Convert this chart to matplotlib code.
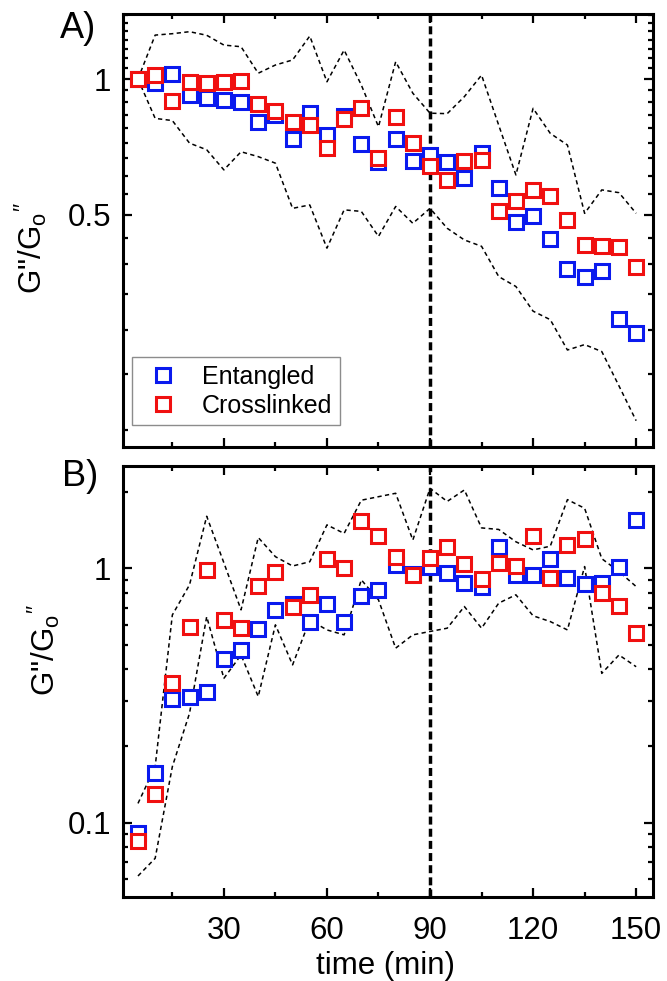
import matplotlib.pyplot as plt
from matplotlib.ticker import FixedLocator, FixedFormatter, NullFormatter, LogLocator

plt.rcParams['font.family'] = ['Liberation Sans', 'DejaVu Sans']
plt.rcParams['mathtext.fontset'] = 'custom'
plt.rcParams['mathtext.rm'] = 'Liberation Sans'
plt.rcParams['mathtext.it'] = 'Liberation Sans'

# time points (min)
time = [5, 10, 15, 20, 25, 30, 35, 40, 45, 50, 55, 60, 65, 70, 75,
        80, 85, 90, 95, 100, 105, 110, 115, 120, 125, 130, 135, 140, 145, 150]

# panel A
a_ent = [1.00, 0.978, 1.026, 0.922, 0.906, 0.899, 0.891, 0.804, 0.833, 0.735,
         0.842, 0.752, 0.826, 0.718, 0.656, 0.735, 0.659, 0.679, 0.656, 0.603,
         0.685, 0.573, 0.483, 0.497, 0.442, 0.379, 0.364, 0.375, 0.294, 0.274]
a_cross = [1.00, 1.02, 0.895, 0.986, 0.981, 0.986, 0.99, 0.88, 0.85, 0.804,
           0.791, 0.703, 0.814, 0.861, 0.667, 0.825, 0.723, 0.64, 0.598, 0.659,
           0.662, 0.511, 0.537, 0.568, 0.551, 0.488, 0.429, 0.427, 0.424, 0.384]
a_upper = [1.0, 1.251, 1.26, 1.273, 1.25, 1.189, 1.179, 1.03, 1.074, 1.102,
           1.245, 0.986, 1.159, 0.97, 0.784, 1.092, 0.93, 0.84, 0.838, 0.914,
           1.02, 0.79, 0.613, 0.861, 0.758, 0.714, 0.504, 0.568, 0.56, 0.504]
a_lower = [1.0, 0.818, 0.809, 0.721, 0.697, 0.629, 0.69, 0.673, 0.651, 0.517,
           0.526, 0.422, 0.513, 0.509, 0.448, 0.522, 0.479, 0.517, 0.467, 0.44,
           0.426, 0.365, 0.347, 0.306, 0.293, 0.251, 0.258, 0.249, 0.209, 0.175]

# panel B
b_ent = [0.0908, 0.156, 0.305, 0.313, 0.325, 0.439, 0.477, 0.575, 0.682, 0.724,
         0.613, 0.724, 0.613, 0.781, 0.822, 1.03, 0.95, 1.01, 0.956, 0.878,
         0.842, 1.21, 0.942, 0.942, 1.085, 0.919, 0.865, 0.878, 1.01, 1.54]
b_cross = [0.0847, 0.130, 0.355, 0.586, 0.985, 0.626, 0.581, 0.852, 0.964, 0.707,
           0.786, 1.088, 1.006, 1.535, 1.34, 1.11, 0.942, 1.10, 1.21, 1.037,
           0.905, 1.05, 1.02, 1.34, 0.919, 1.235, 1.30, 0.802, 0.713, 0.555]
b_upper = [0.119, 0.166, 0.655, 0.86, 1.60, 1.05, 0.686, 1.32, 1.11, 1.02,
           1.06, 1.48, 1.37, 1.85, 1.91, 1.97, 1.29, 2.06, 1.83, 2.03,
           1.44, 1.42, 1.27, 1.18, 1.22, 1.86, 1.72, 1.09, 0.97, 0.847]
b_lower = [0.0617, 0.0724, 0.166, 0.269, 0.645, 0.369, 0.456, 0.313, 0.599, 0.417,
           0.626, 0.572, 0.547, 0.90, 0.751, 0.485, 0.547, 0.564, 0.581, 0.707,
           0.581, 0.729, 0.786, 0.65, 0.617, 0.572, 1.015, 0.386, 0.456, 0.41]

x_major = [30, 60, 90, 120, 150]
x_minor = [15, 45, 75, 105, 135]

fig = plt.figure(figsize=(6.67, 9.81), dpi=100)
axA = fig.add_axes([0.1837, 0.5443, 0.7958, 0.4414])
axB = fig.add_axes([0.1837, 0.0856, 0.7958, 0.4393])


def draw(ax, ent, cross, upper, lower):
    ax.plot(time, upper, color='k', lw=1.1, ls=(0, (2.8, 2.2)), zorder=2)
    ax.plot(time, lower, color='k', lw=1.1, ls=(0, (2.8, 2.2)), zorder=2)
    ax.axvline(90, color='k', lw=2.5, ls=(0, (2.3, 1.2)), zorder=2.5)
    ax.plot(time, ent, ls='none', marker='s', ms=10, mew=2.2, mec='#0a1aee',
            mfc='white', zorder=3, label='Entangled')
    ax.plot(time, cross, ls='none', marker='s', ms=10, mew=2.2, mec='#f01010',
            mfc='white', zorder=4, label='Crosslinked')
    ax.set_yscale('log')
    ax.set_xlim(0.5, 155)
    ax.xaxis.set_major_locator(FixedLocator(x_major))
    ax.xaxis.set_minor_locator(FixedLocator(x_minor))
    for s in ax.spines.values():
        s.set_linewidth(2.2)
    ax.tick_params(which='both', direction='in', top=True, right=True, width=1.6,
                   labelsize=22.5, pad=8)
    ax.tick_params(axis='x', which='both', pad=14)
    ax.tick_params(which='major', length=6.5)
    ax.tick_params(which='minor', length=3.8)


draw(axA, a_ent, a_cross, a_upper, a_lower)
draw(axB, b_ent, b_cross, b_upper, b_lower)

# panel A axis: log with linear minor ticks (Origin style)
axA.set_ylim(0.153, 1.393)
axA.yaxis.set_major_locator(FixedLocator([0.5, 1.0]))
axA.yaxis.set_major_formatter(FixedFormatter(['0.5', '1']))
axA.yaxis.set_minor_locator(FixedLocator([k / 18 for k in range(3, 26) if k % 9]))
axA.yaxis.set_minor_formatter(NullFormatter())
axA.tick_params(axis='x', labelbottom=False)

axB.set_ylim(0.051, 2.52)
axB.yaxis.set_major_locator(FixedLocator([0.1, 1.0]))
axB.yaxis.set_major_formatter(FixedFormatter(['0.1', '1']))
axB.yaxis.set_minor_locator(LogLocator(base=10, subs=[2, 3, 4, 5, 6, 7, 8, 9]))
axB.yaxis.set_minor_formatter(NullFormatter())

leg = axA.legend(loc='lower left', bbox_to_anchor=(0.0173, 0.0508), fontsize=18,
                 frameon=True, fancybox=False, edgecolor='#707070', numpoints=1,
                 handlelength=1.9, handletextpad=0.6, borderpad=0.3,
                 labelspacing=0.2, borderaxespad=0)
leg.get_frame().set_linewidth(1.0)

ylab = 'G"/G$_{\\mathrm{o}}$$^{\\prime\\prime}$'
fig.text(31 / 667, 1 - 248 / 981, ylab, rotation=90, ha='center', va='center', fontsize=22.5)
fig.text(44 / 667, 1 - 650 / 981, ylab, rotation=90, ha='center', va='center', fontsize=22.5)
fig.text(78 / 667, 1 - 28 / 981, 'A)', ha='center', va='center', fontsize=26)
fig.text(80 / 667, 1 - 477 / 981, 'B)', ha='center', va='center', fontsize=26)
fig.text(386 / 667, 1 - 966 / 981, 'time (min)', ha='center', va='center', fontsize=22.5)

fig.savefig('out.png', dpi=100)
